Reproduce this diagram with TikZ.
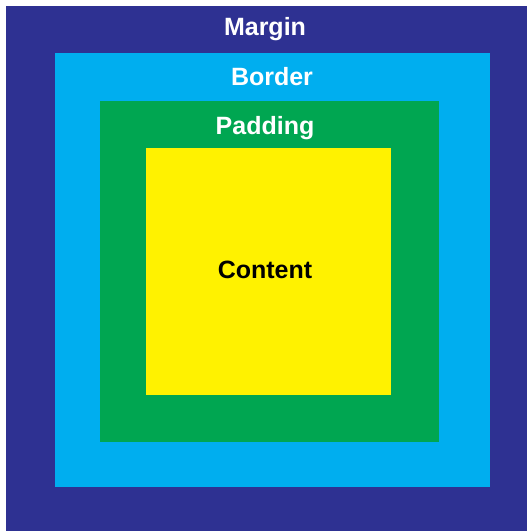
\documentclass[tikz,border=0pt]{standalone}
\usepackage{fontspec}
\setmainfont{Liberation Sans}
\usepackage{xcolor}
\definecolor{boxmargin}{HTML}{2E3192}
\definecolor{boxborder}{HTML}{00AEEF}
\definecolor{boxpadding}{HTML}{00A651}
\definecolor{boxcontent}{HTML}{FFF200}

\begin{document}
\begin{tikzpicture}[x=1pt, y=-1pt,
  layer/.style={inner sep=0pt, outer sep=0pt},
  lbl/.style={font=\fontsize{25}{29}\selectfont\bfseries, text=white}
]
  \useasboundingbox (0,0) rectangle (527,531);

  % Nested boxes
  \fill[layer, boxmargin] (6,6) rectangle (527,531);
  \fill[layer, boxborder] (55,53) rectangle (490,487);
  \fill[layer, boxpadding] (100,101) rectangle (439,442);
  \fill[layer, boxcontent] (146,148) rectangle (391,395);

  % Labels
  \node[lbl] (margin) at (265,29) {Margin};
  \node[lbl] (border) at (272,77) {Border};
  \node[lbl] (padding) at (265,128) {Padding};
  \node[lbl, text=black] (content) at (265,270) {Content};
\end{tikzpicture}
\end{document}
